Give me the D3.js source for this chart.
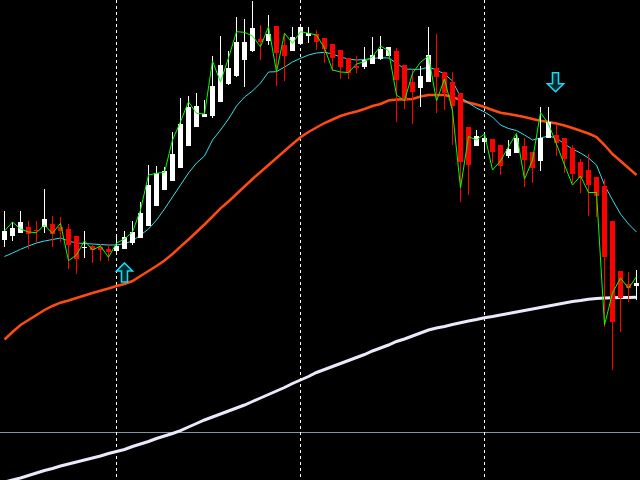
<!DOCTYPE html>
<html>
<head>
<meta charset="utf-8">
<script src="https://cdn.jsdelivr.net/npm/d3@7"></script>
<style>
  html, body { margin: 0; padding: 0; background: #000; overflow: hidden; }
</style>
</head>
<body>
<div id="wrapper"></div>
<script>
const w = 640
const h = 480

// candle prices (XAU style, one bar per column)
const open = [1260,1264,1267.3,1273,1270.3,1273.3,1276,1272.7,1271,1264.3,
  1252.5,1254,1252.7,1250.7,1249.3,1251.3,1257.5,1262.3,1274.3,1294.3,
  1310.3,1319.3,1332.3,1354.3,1373.3,1383.3,1384.3,1398.3,1416,1424,
  1440,1449,1461,1459.3,1474,1455,1449.3,1456,1464.3,1466,
  1462,1456,1450,1442,1434.3,1433.3,1435.7,1440.7,1444.3,1449,
  1435,1418,1412.3,1418.3,1431.7,1427.7,1418.3,1406.7,1373.3,1354,
  1358.3,1361,1355,1344.3,1347.3,1354,1348,1339,1361.7,1365,
  1361.7,1351.7,1338.3,1330,1323.3,1314.3,1279,1229.3,1216,1214]
const high = [1289,1278,1289,1279,1279,1311,1284,1283,1276,1264.3,
  1269,1255,1256,1256,1264,1269,1279,1298,1334.7,1334,
  1333,1368,1401.7,1404,1407,1400.3,1444,1464,1449,1483,
  1481,1499,1475,1485,1474,1467,1473,1473,1473,1470,
  1462,1456,1450,1442,1444,1453,1463,1464.3,1453,1451.7,
  1435,1430,1434,1473.3,1466,1428,1428.3,1407,1373.3,1370,
  1365,1361,1355,1360,1365,1362,1348,1393.3,1393.3,1375,
  1361.7,1355,1340.7,1346,1323.3,1321,1279,1229.3,1228.3,1230]
const low = [1253,1259,1267,1251,1258,1267,1253,1258.3,1231,1226,
  1242.3,1237,1239.3,1239,1245,1251,1255,1262.3,1274.3,1294.3,
  1310.3,1319.3,1332.3,1354.3,1373.3,1383,1382,1398.3,1415,1423.3,
  1413.3,1448,1440,1455,1414,1419,1449,1455,1457,1450,
  1437,1429,1421,1421,1427,1431,1435.7,1440,1444.3,1378.3,
  1391,1376,1393.3,1418.3,1387,1390,1355,1298.3,1305,1354,
  1348.3,1337,1325,1342,1347.3,1313.3,1317,1329,1361.7,1344,
  1326.7,1317,1306.7,1284.3,1283.3,1173.3,1130,1168.3,1198.3,1200]
const close = [1269,1272,1278,1265.7,1269,1281,1265.7,1269.3,1255,1241,
  1253.5,1249.7,1249.7,1248,1254.3,1262.7,1268,1287,1315,1326.7,
  1329,1346,1376,1393,1394,1386,1414,1435,1432,1458,
  1458,1472,1458,1466,1447,1444,1463,1473,1467,1458,
  1451,1442,1433,1427,1432.5,1440,1445.3,1451,1453,1420,
  1400,1408.3,1424,1445.3,1423.3,1406.7,1394,1338.3,1335,1364,
  1362.3,1348.3,1334,1351,1362,1340,1332.3,1362.3,1378.3,1357.3,
  1340.7,1325.7,1322.3,1315,1304,1242.7,1178.3,1202.3,1211.7,1216.7]

// indicator lines
const maFast = [1269,1278,1271,1268,1267.3,1275,1266.7,1276.7,1239.3,1245,
  1259.3,1250,1254,1242.7,1257,1261,1268,1290,1325,1326.7,
  1327.7,1360,1378.3,1398.3,1386.7,1386,1439,1418,1442,1468.3,
  1467.7,1464,1453.3,1473.3,1428.3,1466.7,1456.7,1468.3,1466.7,1465,
  1452,1430,1428,1427.5,1436,1438.3,1443.3,1454,1449.3,1405,
  1399.3,1426.7,1437.7,1444,1399,1421,1389,1312,1363.5,1360,
  1366,1330,1339,1353.3,1366.7,1321,1340,1387.5,1376,1356,
  1335,1315,1324,1307.5,1307.5,1175,1207,1222,1211.7,1223.3]
const maMid = [1243.5,1247,1250.7,1254,1257,1259,1260.5,1262,1259,1257,
  1256.5,1256,1255.5,1255,1255,1256.5,1259,1265,1271,1280,
  1291,1303,1315,1327,1337,1344,1360,1370,1381,1394,
  1403,1409,1417,1428,1428.3,1433,1438,1441.7,1445,1447,
  1447.7,1446,1443,1441,1440,1440.5,1441.5,1442.3,1442,1437,
  1431,1430.7,1430.7,1433,1430,1426,1419,1403,1397,1392,
  1388,1383,1375,1371.5,1369.5,1365,1360,1362,1364,1362,
  1356,1351,1347,1342,1335,1315,1300,1286,1276,1268]
const maSlow = [1160.5,1168,1175,1180,1185,1190,1194,1197.3,1199.5,1202,
  1204.5,1207,1209.3,1211.5,1214,1216,1219,1224,1229,1234,
  1239.5,1246,1253.3,1260.5,1268,1275.5,1283.5,1291.7,1298.5,1306,
  1313.5,1321,1328,1335,1342,1349,1356,1362.7,1368,1372.5,
  1377,1380.5,1384,1386.5,1388.5,1391,1394,1396,1399.5,1400.5,
  1400.5,1401,1403.5,1405,1405,1405,1403,1400,1397.5,1395.5,
  1393,1390,1387.3,1386,1384.5,1383,1381,1379.3,1378,1376.5,
  1374.5,1372,1369.3,1366.5,1363,1355,1346,1339,1332,1325]
const maLong = [1018,1020,1022,1024.5,1027,1029.5,1031.5,1034,1036,1038,
  1040,1042,1044,1046.5,1048.5,1050.5,1053.5,1056,1058.5,1061.5,
  1064,1066.5,1069.3,1073,1076.5,1080,1083,1086,1089,1092,
  1095,1098.5,1102,1105.5,1109,1112.5,1116.5,1120,1123.5,1127.5,
  1130.5,1133.5,1136.5,1139.5,1142.5,1145.5,1149,1152,1155,1158.5,
  1161,1164,1167,1170,1172,1173.5,1175.5,1177.3,1179,1180.5,
  1182.3,1183.5,1185,1186.5,1188,1189.5,1191,1192.5,1194,1195.5,
  1197,1198.5,1199.5,1200.7,1201.5,1202,1202.2,1202.4,1202.6,1202.7]

// signals: bar index and price of the arrow tip
const buyBars = [15]
const buyPrices = [1237]
const sellBars = [69]
const sellPrices = [1408.3]

// horizontal level and the period separators
const levels = [1067.7]
const separators = [14, 37, 60]

const bars = d3.range(open.length)

const x = d3.scaleLinear().domain([0, bars.length - 1]).range([4, 4 + 8 * (bars.length - 1)])
const y = d3.scaleLinear().domain([1020, 1500]).range([h, 0])

const svg = d3.select('#wrapper').append('svg')
  .attr('width', w)
  .attr('height', h)
  .style('display', 'block')
  .style('background', '#000')

svg.append('rect').attr('width', w).attr('height', h).attr('fill', '#000')

// horizontal level
svg.selectAll('.level')
  .data(levels)
  .enter().append('line')
  .attr('class', 'level')
  .attr('x1', 0).attr('x2', w)
  .attr('y1', d => Math.round(y(d)) + 0.5)
  .attr('y2', d => Math.round(y(d)) + 0.5)
  .attr('stroke', '#8394aa')
  .attr('stroke-width', 1)
  .attr('shape-rendering', 'crispEdges')

// dashed separators
svg.selectAll('.sep')
  .data(separators)
  .enter().append('line')
  .attr('class', 'sep')
  .attr('x1', d => x(d) + 0.5).attr('x2', d => x(d) + 0.5)
  .attr('y1', 0).attr('y2', h)
  .attr('stroke', '#fff')
  .attr('stroke-width', 1)
  .attr('stroke-dasharray', '3,3')
  .attr('shape-rendering', 'crispEdges')

// moving averages
const line = arr => d3.line()
  .x(i => x(i) + 0.5)
  .y(i => y(arr[i]))(bars)

svg.append('path')
  .attr('d', line(maLong))
  .attr('fill', 'none')
  .attr('stroke', '#ebe9fb')
  .attr('stroke-width', 3)

svg.append('path')
  .attr('d', line(maSlow))
  .attr('fill', 'none')
  .attr('stroke', '#ff4a12')
  .attr('stroke-width', 2.5)

svg.append('path')
  .attr('d', line(maMid))
  .attr('fill', 'none')
  .attr('stroke', '#2fe0e8')
  .attr('stroke-width', 1)

// candles
const isUp = i => close[i] >= open[i]
const candleColor = i => isUp(i) ? '#ffffff' : '#ff0000'

const candles = svg.selectAll('.candle')
  .data(bars)
  .enter().append('g')
  .attr('class', 'candle')
  .attr('shape-rendering', 'crispEdges')

candles.append('line')
  .attr('x1', i => x(i) + 0.5).attr('x2', i => x(i) + 0.5)
  .attr('y1', i => y(high[i])).attr('y2', i => y(low[i]))
  .attr('stroke', candleColor)
  .attr('stroke-width', 1)

candles.append('rect')
  .attr('x', i => x(i) - 2)
  .attr('width', 5)
  .attr('y', i => y(Math.max(open[i], close[i])))
  .attr('height', i => Math.max(1.5, Math.abs(y(open[i]) - y(close[i]))))
  .attr('fill', candleColor)

svg.append('path')
  .attr('d', line(maFast))
  .attr('fill', 'none')
  .attr('stroke', '#00ff00')
  .attr('stroke-width', 1)

// signal arrows (hollow, drawn from the tip)
function arrowPath(cx, tipY, dir) {
  // dir = 1 points up, -1 points down
  const pts = [[0, 0], [8, 8], [3, 8], [3, 19], [-3, 19], [-3, 8], [-8, 8]]
  return 'M' + pts.map(p => [cx + p[0], tipY + dir * p[1]].join(',')).join('L') + 'Z'
}

svg.selectAll('.buy')
  .data(buyBars)
  .enter().append('path')
  .attr('class', 'buy')
  .attr('d', (d, k) => arrowPath(x(d) + 0.5, y(buyPrices[k]), 1))
  .attr('fill', '#002a2e')
  .attr('stroke', '#18d8f0')
  .attr('stroke-width', 1.6)

svg.selectAll('.sell')
  .data(sellBars)
  .enter().append('path')
  .attr('class', 'sell')
  .attr('d', (d, k) => arrowPath(x(d) - 0.5, y(sellPrices[k]), -1))
  .attr('fill', '#002a2e')
  .attr('stroke', '#18d8f0')
  .attr('stroke-width', 1.6)
</script>
</body>
</html>
